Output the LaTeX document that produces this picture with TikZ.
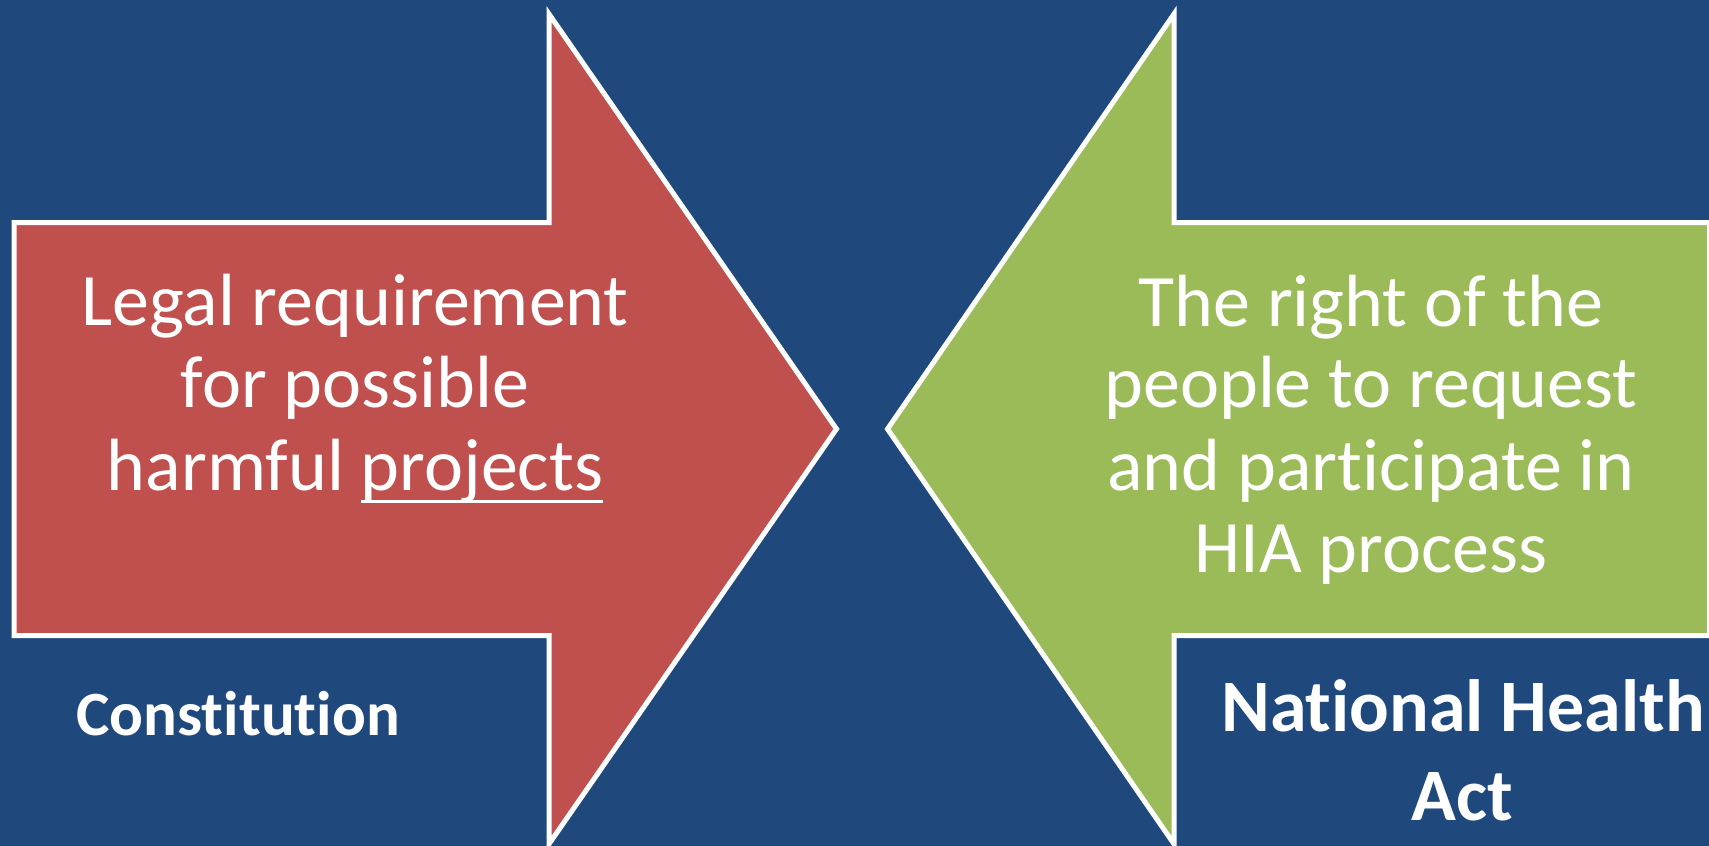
\documentclass[tikz,border=0pt]{standalone}
\usepackage{fontspec}
\setmainfont{Carlito}[Ligatures=NoCommon]
\definecolor{bgblue}{HTML}{1F497D}
\definecolor{arrred}{HTML}{C0504D}
\definecolor{arrgreen}{HTML}{9BBB59}
\newsavebox\myulbox
\newcommand\myul[1]{\sbox\myulbox{#1}\rlap{\rule[-13pt]{\wd\myulbox}{3.5pt}}\usebox\myulbox}
\tikzset{
  arrowshape/.style={draw=white, line width=5pt, miter limit=20},
  bodytext/.style={text=white, inner sep=0pt, anchor=base, font=\fontsize{74}{82}\selectfont},
  labeltext/.style={text=white, inner sep=0pt, anchor=base, font=\fontsize{63}{70}\selectfont\bfseries},
  biglabeltext/.style={text=white, inner sep=0pt, anchor=base, font=\fontsize{74}{82}\selectfont\bfseries},
}
\begin{document}
\begin{tikzpicture}[x=1pt,y=-1pt]
\useasboundingbox (0,0) rectangle (1709,846);
\fill[bgblue] (0,0) rectangle (1709,846);
% red arrow
\filldraw[arrowshape, fill=arrred] (14,222.5) -- (549,222.5) -- (549,14) -- (836.5,429) -- (549,844) -- (549,635.5) -- (14,635.5) -- cycle;
% green arrow
\filldraw[arrowshape, fill=arrgreen] (1709.5,222.5) -- (1174,222.5) -- (1174,14) -- (887.5,429) -- (1174,844) -- (1174,635.5) -- (1709.5,635.5) -- cycle;
% red text
\node[bodytext] (r1) at (355,325) {Legal requirement};
\node[bodytext] (r2) at (355,407.5) {for possible};
\node[bodytext] (r3) at (355,490) {harmful \myul{projects}};
% green text
\node[bodytext] (g1) at (1371,326.5) {The right of the};
\node[bodytext] (g2) at (1371,407.5) {people to request};
\node[bodytext] (g3) at (1371,490) {and participate in};
\node[bodytext] (g4) at (1371,572) {HIA process};
% labels
\node[labeltext] (c1) at (238,735) {Constitution};
\node[biglabeltext] (n1) at (1463,731) {National Health};
\node[biglabeltext] (n2) at (1462,820) {Act};
\end{tikzpicture}
\end{document}
